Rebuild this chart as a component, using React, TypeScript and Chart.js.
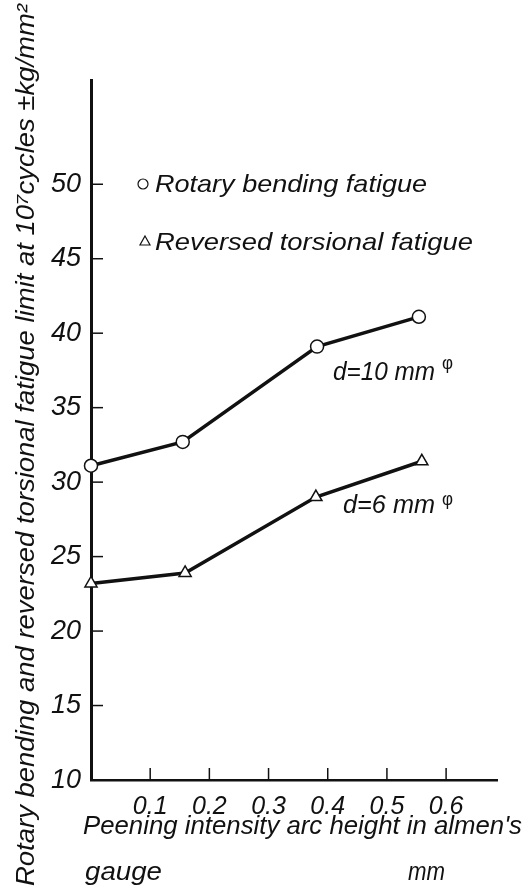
import React, { useEffect, useRef } from "react";
import { Chart, registerables } from "chart.js";

Chart.register(...registerables);

const peeningIntensity = [0, 0.155, 0.382, 0.554];
const rotaryBending = [31.1, 32.7, 39.1, 41.1];
const torsionIntensity = [0, 0.159, 0.38, 0.559];
const reversedTorsional = [23.2, 23.9, 29.0, 31.4];
const xTicks = [0.1, 0.2, 0.3, 0.4, 0.5, 0.6];
const yTicks = [10, 15, 20, 25, 30, 35, 40, 45, 50];

const FONT = "'Liberation Sans', Arial, sans-serif";
const INK = "#111";

function fitText(ctx: CanvasRenderingContext2D, text: string, x: number, y: number, width: number, size: number, style = "italic") {
  ctx.font = `${style} ${size}px ${FONT}`;
  const w = ctx.measureText(text).width;
  ctx.save();
  ctx.translate(x, y);
  ctx.scale(width / w, 1);
  ctx.fillText(text, 0, 0);
  ctx.restore();
}

const decorPlugin = {
  id: "decor",
  afterDraw(chart: any) {
    const ctx: CanvasRenderingContext2D = chart.ctx;
    const xs = chart.scales.x;
    const ys = chart.scales.y;
    const area = chart.chartArea;
    ctx.save();
    ctx.strokeStyle = INK;
    ctx.fillStyle = INK;
    ctx.lineWidth = 1.5;
    // inner tick marks
    yTicks.forEach((v) => {
      if (v === 10) return;
      const py = ys.getPixelForValue(v);
      ctx.beginPath();
      ctx.moveTo(area.left, py);
      ctx.lineTo(area.left + 12, py);
      ctx.stroke();
    });
    xTicks.forEach((v) => {
      const px = xs.getPixelForValue(v);
      ctx.beginPath();
      ctx.moveTo(px, area.bottom);
      ctx.lineTo(px, area.bottom - 12);
      ctx.stroke();
    });

    ctx.textAlign = "left";
    ctx.textBaseline = "alphabetic";
    // y-axis title
    ctx.save();
    ctx.translate(34, 886);
    ctx.rotate(-Math.PI / 2);
    fitText(ctx, "Rotary bending and reversed torsional fatigue limit at 10\u2077cycles \u00B1kg/mm\u00B2", 0, 0, 882, 25);
    ctx.restore();

    // x-axis title
    fitText(ctx, "Peening intensity arc height in almen's", 83, 834, 439, 25);
    fitText(ctx, "gauge", 85, 880, 77, 25);
    fitText(ctx, "mm", 408, 880, 37, 25);

    // legend
    ctx.lineWidth = 1.2;
    ctx.beginPath();
    ctx.arc(143, 184, 5, 0, Math.PI * 2);
    ctx.stroke();
    fitText(ctx, "Rotary bending fatigue", 155, 192, 272, 24);
    ctx.beginPath();
    ctx.moveTo(145, 236);
    ctx.lineTo(150, 245);
    ctx.lineTo(140, 245);
    ctx.closePath();
    ctx.stroke();
    fitText(ctx, "Reversed torsional fatigue", 155, 250, 318, 24);

    // annotations
    fitText(ctx, "d=10 mm", 333, 380, 102, 25);
    fitText(ctx, "\u03C6", 442, 369, 11, 18, "normal");
    fitText(ctx, "d=6 mm", 343, 513, 92, 25);
    fitText(ctx, "\u03C6", 442, 505, 11, 18, "normal");
    ctx.restore();
  },
};

export default function App() {
  const ref = useRef<HTMLCanvasElement>(null);
  useEffect(() => {
    if (!ref.current) return;
    const chart = new Chart(ref.current, {
      type: "line",
      data: {
        datasets: [
          {
            label: "Rotary bending fatigue",
            data: peeningIntensity.map((x, i) => ({ x, y: rotaryBending[i] })),
            borderColor: INK,
            borderWidth: 3.5,
            pointStyle: "circle",
            pointRadius: 6.5,
            pointBorderWidth: 1.5,
            pointBackgroundColor: "#fff",
            pointBorderColor: INK,
            clip: false as any,
          },
          {
            label: "Reversed torsional fatigue",
            data: torsionIntensity.map((x, i) => ({ x, y: reversedTorsional[i] })),
            borderColor: INK,
            borderWidth: 3.5,
            pointStyle: "triangle",
            pointRadius: 7,
            pointBorderWidth: 1.5,
            pointBackgroundColor: "#fff",
            pointBorderColor: INK,
            clip: false as any,
          },
        ],
      },
      options: {
        animation: false,
        responsive: false,
        devicePixelRatio: 1,
        layout: { padding: { top: 80, right: 30, left: 0, bottom: 0 } },
        plugins: { legend: { display: false }, tooltip: { enabled: false } },
        scales: {
          x: {
            type: "linear",
            min: 0,
            max: 0.686,
            afterBuildTicks: (s: any) => {
              s.ticks = xTicks.map((v) => ({ value: v }));
            },
            afterFit: (s: any) => {
              s.height = 110;
            },
            ticks: {
              autoSkip: false,
              maxRotation: 0,
              padding: 12,
              color: INK,
              font: { family: FONT, size: 25, style: "italic" },
              callback: (v: any) => Number(v).toFixed(1),
            },
            grid: { display: false, drawTicks: false },
            border: { display: true, color: INK, width: 2.5 },
          },
          y: {
            type: "linear",
            min: 10,
            max: 57,
            afterBuildTicks: (s: any) => {
              s.ticks = yTicks.map((v) => ({ value: v }));
            },
            afterFit: (s: any) => {
              s.width = 91;
            },
            ticks: {
              autoSkip: false,
              padding: 10,
              color: INK,
              font: { family: FONT, size: 27, style: "italic" },
              callback: (v: any) => String(v),
            },
            grid: { display: false, drawTicks: false },
            border: { display: true, color: INK, width: 3 },
          },
        },
      },
      plugins: [decorPlugin],
    });
    return () => chart.destroy();
  }, []);
  return (
    <div style={{ position: "absolute", left: 0, top: 0, width: 527, height: 890, background: "#fff" }}>
      <canvas ref={ref} width={527} height={890} />
    </div>
  );
}
